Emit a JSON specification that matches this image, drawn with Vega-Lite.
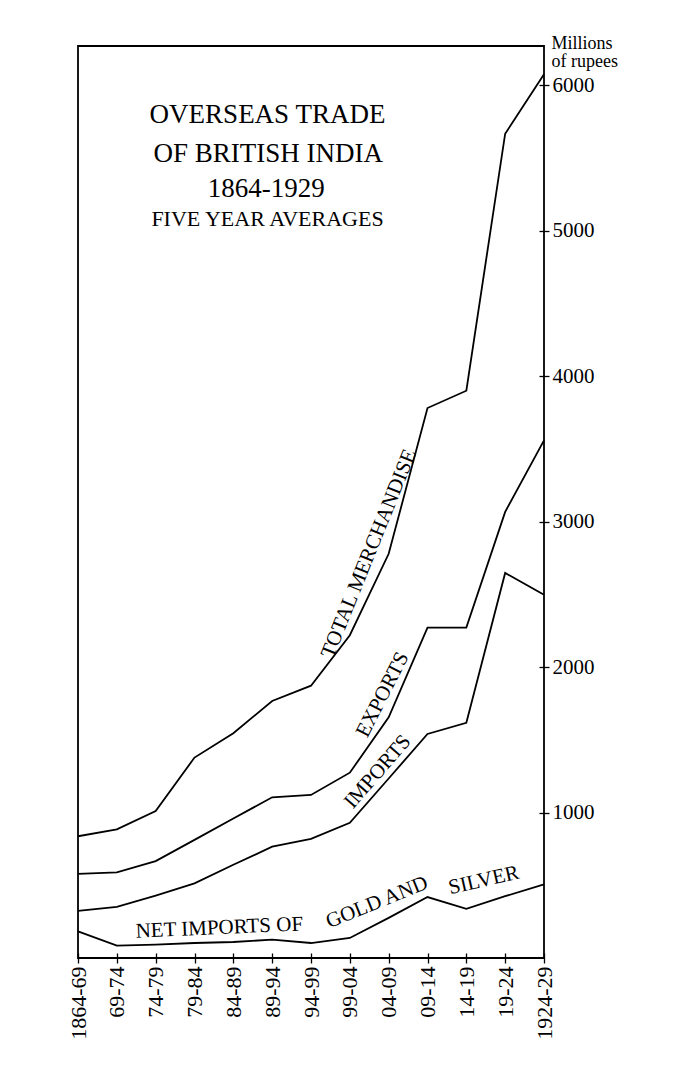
{
  "$schema": "https://vega.github.io/schema/vega-lite/v6.json",
  "width": 466,
  "height": 912,
  "autosize": {"type": "none"},
  "padding": {"left": 78, "top": 46, "right": 142, "bottom": 131},
  "background": "white",
  "config": {
    "font": "Liberation Serif",
    "view": {"stroke": "black", "strokeWidth": 1.8},
    "axis": {
      "grid": false,
      "domain": false,
      "labelFont": "Liberation Serif",
      "labelColor": "black",
      "tickColor": "black",
      "tickWidth": 1.3,
      "titleFont": "Liberation Serif",
      "titleColor": "black",
      "titleFontWeight": "normal",
      "labelOverlap": false
    },
    "axisX": {"labelOverlap": false, "labelSeparation": 0},
    "text": {"font": "Liberation Serif", "color": "black"}
  },
  "datasets": {
    "series": [
      {"period": "1864-69", "idx": 0, "series": "Total merchandise", "value": 837},
      {"period": "69-74", "idx": 1, "series": "Total merchandise", "value": 884},
      {"period": "74-79", "idx": 2, "series": "Total merchandise", "value": 1010},
      {"period": "79-84", "idx": 3, "series": "Total merchandise", "value": 1378},
      {"period": "84-89", "idx": 4, "series": "Total merchandise", "value": 1545},
      {"period": "89-94", "idx": 5, "series": "Total merchandise", "value": 1767},
      {"period": "94-99", "idx": 6, "series": "Total merchandise", "value": 1872},
      {"period": "99-04", "idx": 7, "series": "Total merchandise", "value": 2219},
      {"period": "04-09", "idx": 8, "series": "Total merchandise", "value": 2779},
      {"period": "09-14", "idx": 9, "series": "Total merchandise", "value": 3781},
      {"period": "14-19", "idx": 10, "series": "Total merchandise", "value": 3900},
      {"period": "19-24", "idx": 11, "series": "Total merchandise", "value": 5667},
      {"period": "1924-29", "idx": 12, "series": "Total merchandise", "value": 6076},
      {"period": "1864-69", "idx": 0, "series": "Exports", "value": 579},
      {"period": "69-74", "idx": 1, "series": "Exports", "value": 588},
      {"period": "74-79", "idx": 2, "series": "Exports", "value": 666},
      {"period": "79-84", "idx": 3, "series": "Exports", "value": 812},
      {"period": "84-89", "idx": 4, "series": "Exports", "value": 959},
      {"period": "89-94", "idx": 5, "series": "Exports", "value": 1105},
      {"period": "94-99", "idx": 6, "series": "Exports", "value": 1121},
      {"period": "99-04", "idx": 7, "series": "Exports", "value": 1274},
      {"period": "04-09", "idx": 8, "series": "Exports", "value": 1655},
      {"period": "09-14", "idx": 9, "series": "Exports", "value": 2271},
      {"period": "14-19", "idx": 10, "series": "Exports", "value": 2272},
      {"period": "19-24", "idx": 11, "series": "Exports", "value": 3067},
      {"period": "1924-29", "idx": 12, "series": "Exports", "value": 3559},
      {"period": "1864-69", "idx": 0, "series": "Imports", "value": 324},
      {"period": "69-74", "idx": 1, "series": "Imports", "value": 351},
      {"period": "74-79", "idx": 2, "series": "Imports", "value": 429},
      {"period": "79-84", "idx": 3, "series": "Imports", "value": 513},
      {"period": "84-89", "idx": 4, "series": "Imports", "value": 641},
      {"period": "89-94", "idx": 5, "series": "Imports", "value": 765},
      {"period": "94-99", "idx": 6, "series": "Imports", "value": 819},
      {"period": "99-04", "idx": 7, "series": "Imports", "value": 929},
      {"period": "04-09", "idx": 8, "series": "Imports", "value": 1234},
      {"period": "09-14", "idx": 9, "series": "Imports", "value": 1540},
      {"period": "14-19", "idx": 10, "series": "Imports", "value": 1617},
      {"period": "19-24", "idx": 11, "series": "Imports", "value": 2647},
      {"period": "1924-29", "idx": 12, "series": "Imports", "value": 2497},
      {"period": "1864-69", "idx": 0, "series": "Net imports of gold and silver", "value": 183},
      {"period": "69-74", "idx": 1, "series": "Net imports of gold and silver", "value": 85},
      {"period": "74-79", "idx": 2, "series": "Net imports of gold and silver", "value": 92},
      {"period": "79-84", "idx": 3, "series": "Net imports of gold and silver", "value": 103},
      {"period": "84-89", "idx": 4, "series": "Net imports of gold and silver", "value": 110},
      {"period": "89-94", "idx": 5, "series": "Net imports of gold and silver", "value": 126},
      {"period": "94-99", "idx": 6, "series": "Net imports of gold and silver", "value": 103},
      {"period": "99-04", "idx": 7, "series": "Net imports of gold and silver", "value": 138},
      {"period": "04-09", "idx": 8, "series": "Net imports of gold and silver", "value": 276},
      {"period": "09-14", "idx": 9, "series": "Net imports of gold and silver", "value": 419},
      {"period": "14-19", "idx": 10, "series": "Net imports of gold and silver", "value": 338},
      {"period": "19-24", "idx": 11, "series": "Net imports of gold and silver", "value": 425},
      {"period": "1924-29", "idx": 12, "series": "Net imports of gold and silver", "value": 506}
    ],
    "labels": [
      {"group": "title", "label": "OVERSEAS TRADE", "idx": 4.88, "value": 5797},
      {"group": "title", "label": "OF BRITISH INDIA", "idx": 4.9, "value": 5529},
      {"group": "title", "label": "1864-1929", "idx": 4.85, "value": 5285},
      {"group": "subtitle", "label": "FIVE YEAR AVERAGES", "idx": 4.88, "value": 5080},
      {"group": "total", "label": "TOTAL MERCHANDISE", "idx": 7.5, "value": 2780},
      {"group": "exports", "label": "EXPORTS", "idx": 7.85, "value": 1810},
      {"group": "imports", "label": "IMPORTS", "idx": 7.72, "value": 1280},
      {"group": "net1", "label": "NET IMPORTS OF", "idx": 3.64, "value": 206},
      {"group": "net2", "label": "GOLD AND", "idx": 7.7, "value": 381},
      {"group": "net3", "label": "SILVER", "idx": 10.45, "value": 533}
    ]
  },
  "encoding": {
    "x": {
      "field": "idx",
      "type": "quantitative",
      "scale": {"domain": [0, 12], "nice": false, "zero": false},
      "axis": {
        "orient": "bottom",
        "values": [0, 1, 2, 3, 4, 5, 6, 7, 8, 9, 10, 11, 12],
        "labelExpr": "['1864-69','69-74','74-79','79-84','84-89','89-94','94-99','99-04','04-09','09-14','14-19','19-24','1924-29'][datum.value]",
        "labelAngle": -90,
        "labelFontSize": 22,
        "labelOverlap": false,
        "labelFlush": false,
        "labelBound": false,
        "tickSize": 10,
        "offset": -5,
        "labelPadding": 3,
        "title": null
      }
    },
    "y": {
      "field": "value",
      "type": "quantitative",
      "scale": {"domain": [0, 6270], "nice": false},
      "axis": {
        "orient": "right",
        "values": [1000, 2000, 3000, 4000, 5000, 6000],
        "format": "d",
        "labelFontSize": 21,
        "labelOverlap": false,
        "labelFlush": false,
        "tickSize": 10,
        "offset": -5,
        "labelPadding": 3,
        "title": ["Millions", "of rupees"],
        "titleAngle": 0,
        "titleAlign": "left",
        "titleBaseline": "alphabetic",
        "titleX": 12,
        "titleY": 2,
        "titleFontSize": 18,
        "titleLineHeight": 18
      }
    }
  },
  "layer": [
    {
      "data": {"name": "series"},
      "mark": {"type": "line", "color": "black", "strokeWidth": 1.8},
      "encoding": {
        "detail": {"field": "series"},
        "order": {"field": "idx"}
      }
    },
    {
      "data": {"name": "labels"},
      "transform": [{"filter": "datum.group == 'title'"}],
      "mark": {"type": "text", "fontSize": 27},
      "encoding": {"text": {"field": "label"}}
    },
    {
      "data": {"name": "labels"},
      "transform": [{"filter": "datum.group == 'subtitle'"}],
      "mark": {"type": "text", "fontSize": 22},
      "encoding": {"text": {"field": "label"}}
    },
    {
      "data": {"name": "labels"},
      "transform": [{"filter": "datum.group == 'total'"}],
      "mark": {"type": "text", "fontSize": 21, "angle": -68},
      "encoding": {"text": {"field": "label"}}
    },
    {
      "data": {"name": "labels"},
      "transform": [{"filter": "datum.group == 'exports'"}],
      "mark": {"type": "text", "fontSize": 21, "angle": -63},
      "encoding": {"text": {"field": "label"}}
    },
    {
      "data": {"name": "labels"},
      "transform": [{"filter": "datum.group == 'imports'"}],
      "mark": {"type": "text", "fontSize": 21, "angle": -49},
      "encoding": {"text": {"field": "label"}}
    },
    {
      "data": {"name": "labels"},
      "transform": [{"filter": "datum.group == 'net1'"}],
      "mark": {"type": "text", "fontSize": 21, "angle": -2.5},
      "encoding": {"text": {"field": "label"}}
    },
    {
      "data": {"name": "labels"},
      "transform": [{"filter": "datum.group == 'net2'"}],
      "mark": {"type": "text", "fontSize": 21, "angle": -22},
      "encoding": {"text": {"field": "label"}}
    },
    {
      "data": {"name": "labels"},
      "transform": [{"filter": "datum.group == 'net3'"}],
      "mark": {"type": "text", "fontSize": 21, "angle": -13},
      "encoding": {"text": {"field": "label"}}
    }
  ]
}
